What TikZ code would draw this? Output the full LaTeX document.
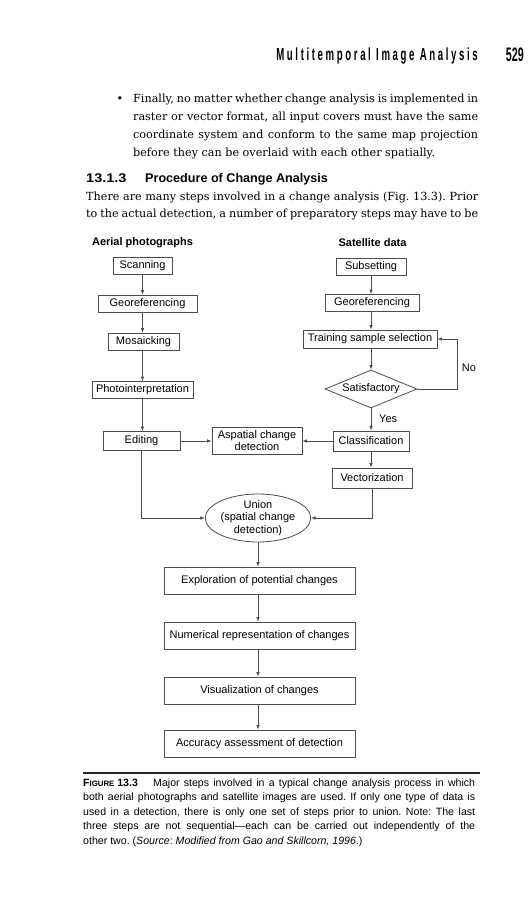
\documentclass[tikz,border=0pt]{standalone}
\usepackage{fontspec}
\setmainfont{DejaVu Serif}
\newfontfamily\flowfont{Liberation Sans}
\newfontfamily\headfont[FakeStretch=0.55,LetterSpace=15]{Liberation Sans}
\newfontfamily\pagenofont[FakeStretch=0.55]{Liberation Sans}
\newfontfamily\secnofont[FakeStretch=1.15]{Liberation Sans}
\usetikzlibrary{shapes.geometric,arrows.meta}
\definecolor{linegray}{gray}{0.3}
\tikzset{>={Latex[length=4.5pt,width=3.6pt]}}
\newcommand*{\jl}[2]{\makebox[#1][s]{#2}}
\newcommand*{\ff}[1]{\flowfont\fontsize{#1}{12.5}\selectfont}
\frenchspacing

\begin{document}
\begin{tikzpicture}[x=1pt,y=-1pt,
  every node/.style={inner sep=0pt},
  box/.style={draw=linegray,line width=0.8pt,font=\ff{11},minimum height=17pt,align=center},
  conn/.style={draw=linegray,line width=0.8pt},
  arr/.style={conn,->},
  txt/.style={anchor=base west,font=\fontsize{11.2}{18}\selectfont},
  capline/.style={anchor=base west,font=\ff{10.6}},
  colhead/.style={font=\ff{11}\bfseries}]
\useasboundingbox (0,0) rectangle (529,900);
% running head
\node[anchor=base east,font=\headfont\bfseries\fontsize{17.5}{18}\selectfont] (runhead) at (478,60) {Multitemporal Image Analysis};
\node[anchor=base east,font=\pagenofont\bfseries\fontsize{19.5}{20}\selectfont] (pageno) at (524,61) {529};
% bullet and text
\node[anchor=base,font=\fontsize{11.2}{18}\selectfont] (dot) at (120,102) {\textbullet};
\node[txt] (bul1) at (133,102) {\jl{345pt}{Finally, no matter whether change analysis is implemented in}};
\node[txt] (bul2) at (133,120) {\jl{345pt}{raster or vector format, all input covers must have the same}};
\node[txt] (bul3) at (133,138) {\jl{345pt}{coordinate system and conform to the same map projection}};
\node[txt] (bul4) at (133,156) {before they can be overlaid with each other spatially.};
\node[anchor=base west,font=\secnofont\bfseries\fontsize{12.6}{14}\selectfont] (secno) at (86,182) {13.1.3};
\node[anchor=base west,font=\ff{12.6}\bfseries] (sectitle) at (145,182) {Procedure of Change Analysis};
\node[txt] (body1) at (86,200) {\jl{392pt}{There are many steps involved in a change analysis (Fig. 13.3). Prior}};
\node[txt] (body2) at (86,217) {\jl{392pt}{to the actual detection, a number of preparatory steps may have to be}};
% column heads
\node[colhead] (aerial) at (142.5,243) {Aerial photographs};
\node[colhead] (satdata) at (372.5,243) {Satellite data};
% aerial photographs
\node[box,minimum width=59pt] (scan) at (142.5,265.5) {Scanning};
\node[box,minimum width=99pt] (georefA) at (147.5,303.5) {Georeferencing};
\node[box,minimum width=71pt] (mosaic) at (143.5,341.5) {Mosaicking};
\node[box,minimum width=101pt] (photo) at (142.5,390) {Photointerpretation};
\node[box,minimum width=77pt,minimum height=19pt] (edit) at (141.5,441) {Editing};
\node[box,minimum width=90pt,minimum height=27pt] (aspatial) at (257,440.5) {Aspatial change\\detection};
% satellite data
\node[box,minimum width=70pt] (subset) at (371,266.5) {Subsetting};
\node[box,minimum width=94pt] (georefB) at (372,303) {Georeferencing};
\node[box,minimum width=134pt,minimum height=18pt] (train) at (370,339) {Training sample selection};
\node[box,diamond,aspect=2.4,minimum width=92pt,minimum height=38pt] (satisf) at (371,389) {Satisfactory};
\node[box,minimum width=76pt,minimum height=20pt] (classif) at (371,441) {Classification};
\node[box,minimum width=80pt,minimum height=20pt] (vector) at (372,478) {Vectorization};
\node[font=\ff{11},anchor=west] (yes) at (379,419) {Yes};
\node[font=\ff{11}] (no) at (469,368) {No};
\coordinate (noturn) at (457,389);
% common steps
\node[box,ellipse,inner ysep=-3pt,minimum width=104pt,minimum height=48pt] (union) at (258,518) {Union\\(spatial change\\detection)};
\node[box,minimum width=191pt,minimum height=27pt] (explore) at (259.5,580.5) {Exploration of potential changes};
\node[box,minimum width=191pt,minimum height=27pt] (numeric) at (259.5,635.5) {Numerical representation of changes};
\node[box,minimum width=191pt,minimum height=27pt] (visual) at (259.5,690.5) {Visualization of changes};
\node[box,minimum width=191pt,minimum height=27pt] (accuracy) at (259.5,743.5) {Accuracy assessment of detection};
% connectors
\foreach \a/\b in {scan/georefA,georefA/mosaic,mosaic/photo,photo/edit}
  \draw[arr] (scan.south |- \a.south) -- (scan.south |- \b.north);
\foreach \a/\b in {subset/georefB,georefB/train,train/satisf,satisf/classif,classif/vector}
  \draw[arr] (satisf.south |- \a.south) -- (satisf.south |- \b.north);
\foreach \a/\b in {union/explore,explore/numeric,numeric/visual,visual/accuracy}
  \draw[arr] (union.south |- \a.south) -- (union.south |- \b.north);
\draw[arr] (satisf.east) -- (noturn) |- (train.east);
\draw[arr] (edit.east) -- (aspatial.west |- edit.east);
\draw[arr] (classif.west) -- (aspatial.east |- classif.west);
\draw[arr] (edit.south) |- (union.west);
\draw[arr] (vector.south) |- (union.east);
% caption
\draw[line width=1.6pt,black!85] (83,773) -- (480,773);
\node[capline] (figno) at (83,786) {\bfseries F{\fontsize{7.8}{9}\selectfont IGURE} 13.3};
\node[capline] (cap1) at (153,786) {\jl{322pt}{Major steps involved in a typical change analysis process in which}};
\node[capline] (cap2) at (83,800.5) {\jl{392pt}{both aerial photographs and satellite images are used. If only one type of data is}};
\node[capline] (cap3) at (83,815) {\jl{392pt}{used in a detection, there is only one set of steps prior to union. Note: The last}};
\node[capline] (cap4) at (83,829.5) {\jl{392pt}{three steps are not sequential—each can be carried out independently of the}};
\node[capline] (cap5) at (83,844) {other two. (\textit{Source}: \textit{Modified from Gao and Skillcorn, 1996}.)};
\end{tikzpicture}
\end{document}
